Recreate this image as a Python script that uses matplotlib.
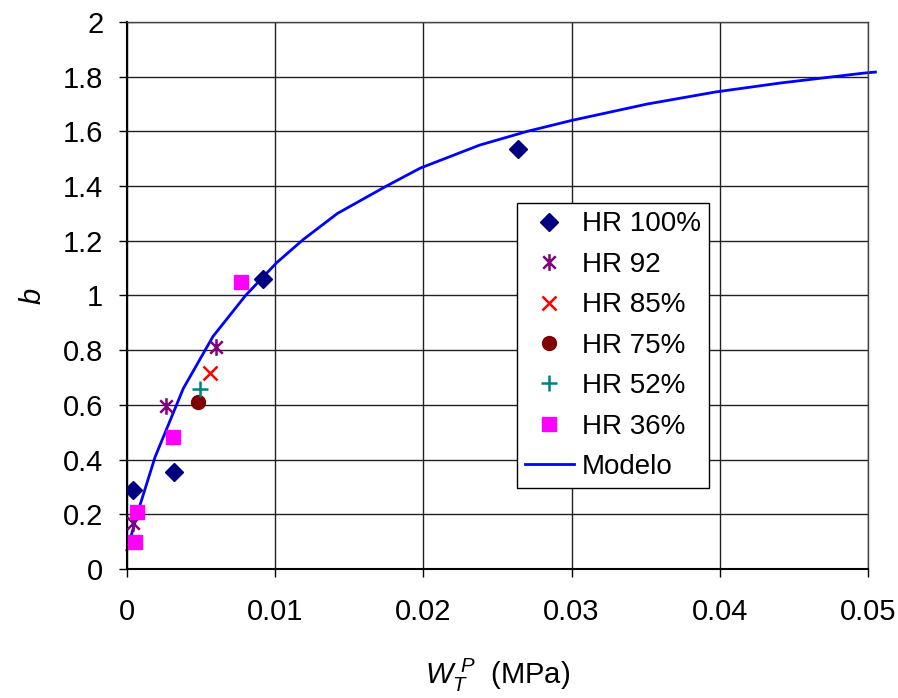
import matplotlib
matplotlib.use("Agg")
import matplotlib.pyplot as plt
from matplotlib.path import Path

plt.rcParams['font.family'] = ['Liberation Sans', 'DejaVu Sans']
plt.rcParams['mathtext.fontset'] = 'custom'
plt.rcParams['mathtext.rm'] = 'Liberation Sans'
plt.rcParams['mathtext.it'] = 'Liberation Sans:italic'

# data
hr100_x = [0.00043, 0.0032, 0.0092, 0.02637]
hr100_y = [0.289, 0.356, 1.059, 1.537]
hr92_x = [0.00043, 0.0026, 0.0060]
hr92_y = [0.169, 0.597, 0.811]
hr85_x = [0.0056]
hr85_y = [0.716]
hr75_x = [0.0048]
hr75_y = [0.612]
hr52_x = [0.0049]
hr52_y = [0.658]
hr36_x = [0.00065, 0.00054, 0.0031, 0.0077]
hr36_y = [0.21, 0.098, 0.484, 1.05]

modelo_x = [0.0, 0.00088, 0.0019, 0.0038, 0.0058, 0.0080, 0.0101, 0.0119, 0.0142,
            0.0175, 0.0198, 0.0238, 0.0270, 0.0300, 0.0351, 0.0397, 0.0441, 0.0497, 0.0505]
modelo_y = [0.069, 0.234, 0.41, 0.66, 0.85, 1.0, 1.12, 1.205, 1.30,
            1.40, 1.466, 1.55, 1.60, 1.640, 1.70, 1.744, 1.777, 1.813, 1.817]

star = Path([(0, -1), (0, 1), (-0.75, -0.75), (0.75, 0.75), (-0.75, 0.75), (0.75, -0.75)],
            [Path.MOVETO, Path.LINETO, Path.MOVETO, Path.LINETO, Path.MOVETO, Path.LINETO])

fig = plt.figure(figsize=(8.98, 6.98), dpi=100)
ax = fig.add_axes([0.1414, 0.1848, 0.8252, 0.7837])

ax.plot(hr100_x, hr100_y, ls='none', marker='D', ms=9, color='#000080', label='HR 100%', zorder=3)
ax.plot(hr92_x, hr92_y, ls='none', marker=star, ms=12, mew=1.8, color='#800080', label='HR 92', zorder=3)
ax.plot(hr85_x, hr85_y, ls='none', marker='x', ms=10, mew=1.8, color='#FF0000', label='HR 85%', zorder=3)
ax.plot(hr75_x, hr75_y, ls='none', marker='o', ms=10, color='#800000', label='HR 75%', zorder=3)
ax.plot(hr52_x, hr52_y, ls='none', marker='+', ms=11, mew=1.8, color='#008080', label='HR 52%', zorder=3)
ax.plot(hr36_x, hr36_y, ls='none', marker='s', ms=10, color='#FF00FF', label='HR 36%', zorder=3)
ax.plot(modelo_x, modelo_y, color='#0000FF', lw=2, label='Modelo', zorder=2, clip_on=False)

ax.set_xlim(0, 0.05)
ax.set_ylim(0, 2)
ax.set_xticks([0, 0.01, 0.02, 0.03, 0.04, 0.05])
ax.set_xticklabels(['0', '0.01', '0.02', '0.03', '0.04', '0.05'])
ax.set_yticks([0, 0.2, 0.4, 0.6, 0.8, 1, 1.2, 1.4, 1.6, 1.8, 2])
ax.set_yticklabels(['0', '0.2', '0.4', '0.6', '0.8', '1', '1.2', '1.4', '1.6', '1.8', '2'])
ax.grid(True, color='#222222', lw=1)
ax.set_axisbelow(True)
ax.tick_params(axis='both', labelsize=21, length=6, width=1, direction='out')
ax.tick_params(axis='x', pad=15)
ax.tick_params(axis='y', pad=11)
for side in ['top', 'right']:
    ax.spines[side].set_color('#444444')
    ax.spines[side].set_linewidth(1)
for side in ['left', 'bottom']:
    ax.spines[side].set_linewidth(1.5)

ax.set_xlabel(r'$W_T^{\ P}$  (MPa)', fontsize=21, labelpad=22)
ax.set_ylabel('b', fontsize=21, style='italic', labelpad=12)

leg = ax.legend(loc='upper left', bbox_to_anchor=(0.526, 0.669), fontsize=20,
                frameon=True, fancybox=False, edgecolor='black', framealpha=1,
                borderpad=0.3, labelspacing=0.52, handlelength=1.75, handletextpad=0.3,
                borderaxespad=0)
leg.get_frame().set_linewidth(1)

plt.savefig("out.png", dpi=100)
